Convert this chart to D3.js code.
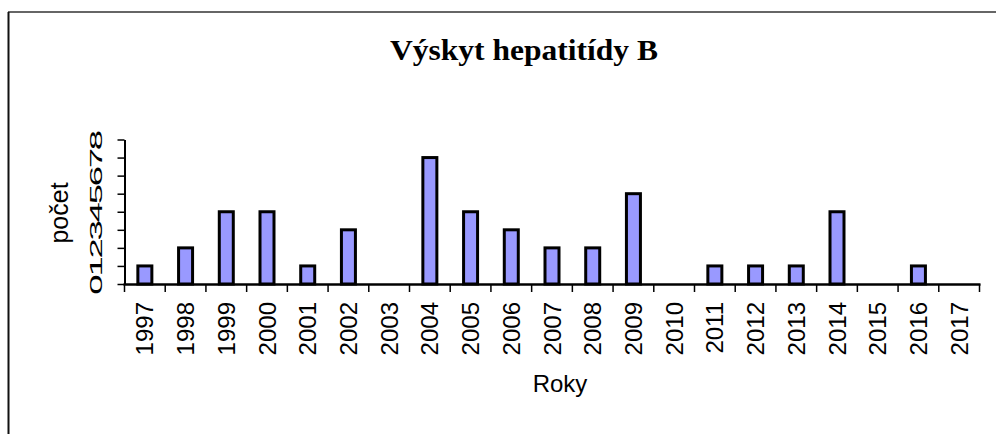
<!DOCTYPE html>
<html>
<head>
<meta charset="utf-8">
<script src="https://cdn.jsdelivr.net/npm/d3@7"></script>
<style>
  body { margin: 0; background: #fff; }
  svg { display: block; }
</style>
</head>
<body>
<script>
'use strict';

// chart data
let years = ["1997", "1998", "1999", "2000", "2001", "2002", "2003", "2004", "2005", "2006", "2007",
  "2008", "2009", "2010", "2011", "2012", "2013", "2014", "2015", "2016", "2017"];
let counts = [1, 2, 4, 4, 1, 3, 0, 7, 4, 3, 2, 2, 5, 0, 1, 1, 1, 4, 0, 1, 0];
let yTicks = [0, 1, 2, 3, 4, 5, 6, 7, 8];

let width = 996, height = 435;

let svg = d3.select('body')
  .append('svg')
  .attr('width', width)
  .attr('height', height);

// outer chart frame (runs off the right and bottom)
svg.append('line')
  .attr('x1', 8).attr('y1', 12).attr('x2', width).attr('y2', 12)
  .attr('stroke', '#333').attr('stroke-width', 1.5);
svg.append('line')
  .attr('x1', 8.5).attr('y1', 12).attr('x2', 8.5).attr('y2', 434)
  .attr('stroke', '#111').attr('stroke-width', 2);

// title
svg.append('text')
  .attr('x', 524)
  .attr('y', 60)
  .attr('text-anchor', 'middle')
  .attr('textLength', 268)
  .attr('lengthAdjust', 'spacingAndGlyphs')
  .style('font-family', '"Liberation Serif", "Times New Roman", serif')
  .style('font-weight', 'bold')
  .style('font-size', '29px')
  .text('Výskyt hepatitídy B');

// scales
let x = d3.scaleBand()
  .domain(years)
  .range([124.5, 979.5])
  .padding(0);

let y = d3.scaleLinear()
  .domain([0, 8])
  .range([284, 139.5]);

// bars
let barW = 14;
svg.selectAll('.bar')
  .data(counts.map((c, i) => ({ year: years[i], value: c })).filter(d => d.value > 0))
  .enter()
  .append('rect')
  .attr('class', 'bar')
  .attr('x', d => x(d.year) + x.bandwidth() / 2 - barW / 2)
  .attr('y', d => y(d.value))
  .attr('width', barW)
  .attr('height', d => y(0) - y(d.value))
  .attr('fill', '#9999FF')
  .attr('stroke', '#000')
  .attr('stroke-width', 3);

// y axis
let yAxis = d3.axisLeft(y)
  .tickValues(yTicks)
  .tickSize(7)
  .tickSizeOuter(0);
let gy = svg.append('g')
  .attr('transform', 'translate(124.5, 0)')
  .call(yAxis);
gy.select('.domain').attr('stroke', '#000').attr('stroke-width', 2);
gy.selectAll('.tick line').attr('stroke', '#000').attr('stroke-width', 1.5);
// labels are squeezed onto the axis, so they overlap each other
gy.selectAll('.tick text')
  .attr('x', null)
  .attr('dy', null)
  .attr('text-anchor', 'middle')
  .attr('fill', '#000')
  .attr('transform', 'translate(-23, 0) rotate(-90) scale(2.15, 1)')
  .style('font-family', '"Liberation Sans", Arial, sans-serif')
  .style('font-size', '17px');

// x axis with ticks on the band edges
let edges = years.map(yr => x(yr)).concat([x.range()[1]]);
let gx = svg.append('g');
gx.append('line')
  .attr('x1', 123.5).attr('x2', 980.5)
  .attr('y1', 284.5).attr('y2', 284.5)
  .attr('stroke', '#000').attr('stroke-width', 2.5);
gx.selectAll('.xtick')
  .data(edges)
  .enter()
  .append('line')
  .attr('class', 'xtick')
  .attr('x1', d => d).attr('x2', d => d)
  .attr('y1', 284).attr('y2', 292)
  .attr('stroke', '#000').attr('stroke-width', 1.5);

gx.selectAll('.xlabel')
  .data(years)
  .enter()
  .append('text')
  .attr('class', 'xlabel')
  .attr('text-anchor', 'end')
  .attr('transform', d => 'translate(' + (x(d) + x.bandwidth() / 2 + 8.5) + ', 302) rotate(-90)')
  .style('font-family', '"Liberation Sans", Arial, sans-serif')
  .style('font-size', '24px')
  .text(d => d);

// axis titles
svg.append('text')
  .attr('x', 560)
  .attr('y', 392)
  .attr('text-anchor', 'middle')
  .style('font-family', '"Liberation Sans", Arial, sans-serif')
  .style('font-size', '24px')
  .text('Roky');

svg.append('text')
  .attr('transform', 'translate(68, 213) rotate(-90)')
  .attr('text-anchor', 'middle')
  .style('font-family', '"Liberation Sans", Arial, sans-serif')
  .style('font-size', '25px')
  .text('počet');
</script>
</body>
</html>
